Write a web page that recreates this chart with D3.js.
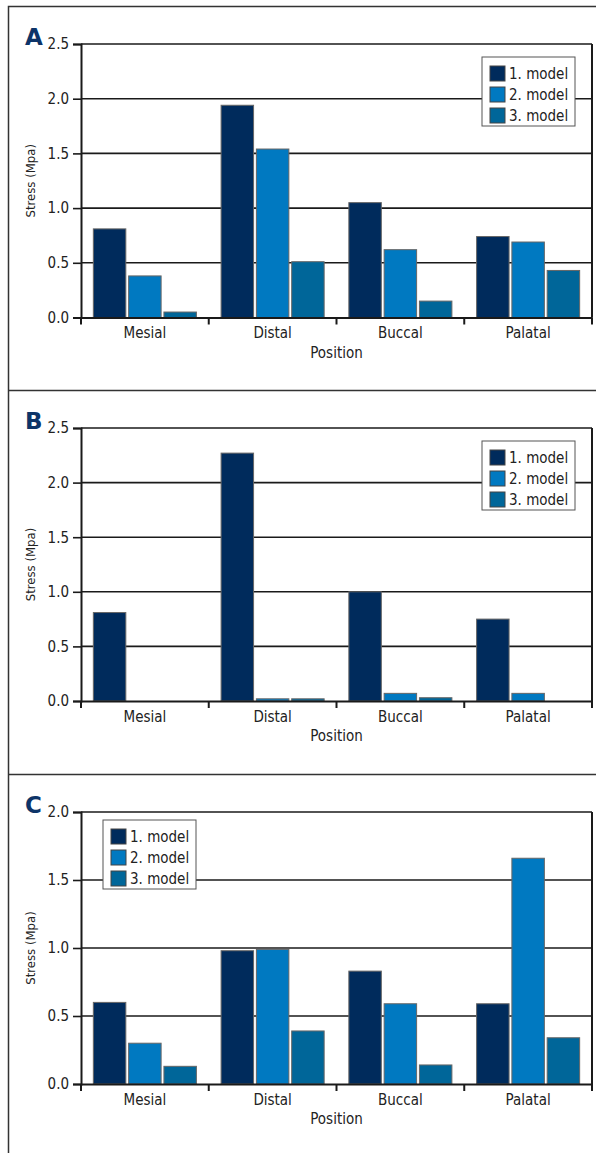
<!DOCTYPE html>
<html>
<head>
<meta charset="utf-8">
<script src="https://cdn.jsdelivr.net/npm/d3@7"></script>
<style>
  body { margin: 0; background: #fff; }
  svg text { font-family: "Liberation Sans Narrow", "DejaVu Sans Condensed", "Arial Narrow", sans-serif; fill: #222; }
</style>
</head>
<body>
<svg id="chart" width="596" height="1153"></svg>
<script>
// data to be manipulated
const positions = ["Mesial", "Distal", "Buccal", "Palatal"]
const models = ["1. model", "2. model", "3. model"]
const colors = ["#002b5c", "#0079c1", "#006699"]

// panel A
const stressA = [
  [0.81, 0.38, 0.05],
  [1.94, 1.54, 0.51],
  [1.05, 0.62, 0.15],
  [0.74, 0.69, 0.43]
]
// panel B
const stressB = [
  [0.81, 0, 0],
  [2.27, 0.02, 0.02],
  [1.00, 0.07, 0.03],
  [0.75, 0.07, 0]
]
// panel C
const stressC = [
  [0.60, 0.30, 0.13],
  [0.98, 0.99, 0.39],
  [0.83, 0.59, 0.14],
  [0.59, 1.66, 0.34]
]
const ticksAB = [0, 0.5, 1.0, 1.5, 2.0, 2.5]
const ticksC = [0, 0.5, 1.0, 1.5, 2.0]

const svg = d3.select("#chart")

// outer frame (open to the right and bottom)
svg.append("path")
   .attr("d", "M596,6.5 H8.5 V1153")
   .attr("fill", "none").attr("stroke", "#333").attr("stroke-width", 1.5)
svg.append("line").attr("x1", 8).attr("x2", 596).attr("y1", 390.5).attr("y2", 390.5)
   .attr("stroke", "#333").attr("stroke-width", 1.5)
svg.append("line").attr("x1", 8).attr("x2", 596).attr("y1", 774.5).attr("y2", 774.5)
   .attr("stroke", "#333").attr("stroke-width", 1.5)

function drawPanel(letter, data, ticks, top, bottom, legendPos) {
  const left = 81, right = 592
  const g = svg.append("g")

  const x = d3.scaleBand().domain(positions).range([left, right])
  const xInner = d3.scaleBand().domain(models).range([0, x.bandwidth()])
                   .paddingInner(0.08).paddingOuter(0.35)
  const y = d3.scaleLinear().domain([0, d3.max(ticks)]).range([bottom, top])

  // gridlines
  g.append("g").selectAll("line")
   .data(ticks.slice(1))
   .enter().append("line")
   .attr("x1", left).attr("x2", right)
   .attr("y1", d => y(d)).attr("y2", d => y(d))
   .attr("stroke", "#1a1a1a").attr("stroke-width", 1.6)

  // right border
  g.append("line").attr("x1", right).attr("x2", right)
   .attr("y1", y(d3.max(ticks))).attr("y2", bottom)
   .attr("stroke", "#1a1a1a").attr("stroke-width", 2)

  // bars
  g.append("g").selectAll("g")
   .data(data)
   .enter().append("g")
   .attr("transform", (d, i) => "translate(" + x(positions[i]) + ",0)")
   .selectAll("rect")
   .data(d => d)
   .enter().append("rect")
   .attr("x", (d, j) => xInner(models[j]))
   .attr("width", xInner.bandwidth())
   .attr("y", d => y(d))
   .attr("height", d => bottom - y(d))
   .attr("fill", (d, j) => colors[j])
   .attr("stroke", "#666").attr("stroke-width", d => d > 0 ? 1 : 0)

  // y axis
  const yAxis = g.append("g")
   .attr("transform", "translate(" + left + ",0)")
   .call(d3.axisLeft(y).tickValues(ticks).tickFormat(d3.format(".1f")).tickSize(8).tickPadding(4))
  yAxis.select(".domain").attr("stroke", "#1a1a1a").attr("stroke-width", 2)
  yAxis.selectAll(".tick line").attr("stroke", "#1a1a1a").attr("stroke-width", 1.6)
  yAxis.selectAll("text").attr("font-size", 15).attr("fill", "#222")
       .style("font-family", "'Liberation Sans Narrow', 'DejaVu Sans Condensed', sans-serif")

  // x axis
  const xAxis = g.append("g")
   .attr("transform", "translate(0," + bottom + ")")
   .call(d3.axisBottom(x).tickSize(0).tickPadding(10))
  xAxis.select(".domain").attr("stroke", "#1a1a1a").attr("stroke-width", 2.2)
  xAxis.selectAll("text").attr("font-size", 15).attr("fill", "#222")
       .style("font-family", "'Liberation Sans Narrow', 'DejaVu Sans Condensed', sans-serif")
  // boundary ticks between categories
  g.append("g").selectAll("line")
   .data(positions.map(p => x(p)).concat([right]))
   .enter().append("line")
   .attr("x1", d => d).attr("x2", d => d)
   .attr("y1", bottom).attr("y2", bottom + 7)
   .attr("stroke", "#1a1a1a").attr("stroke-width", 2)

  // axis titles
  g.append("text")
   .attr("x", (left + right) / 2).attr("y", bottom + 40)
   .attr("text-anchor", "middle").attr("font-size", 15)
   .text("Position")
  g.append("text")
   .attr("transform", "translate(35," + (top + bottom) / 2 + ") rotate(-90)")
   .attr("text-anchor", "middle").attr("font-size", 13)
   .text("Stress (Mpa)")

  // panel letter
  g.append("text")
   .attr("x", 25).attr("y", top + 1)
   .attr("font-size", 23).attr("font-weight", "bold")
   .style("font-family", "'DejaVu Sans', sans-serif")
   .style("fill", "#0d3468")
   .text(letter)

  // legend
  const lg = g.append("g").attr("transform", "translate(" + legendPos[0] + "," + legendPos[1] + ")")
  lg.append("rect").attr("width", 93).attr("height", 69)
    .attr("fill", "#fff").attr("stroke", "#555").attr("stroke-width", 1)
  const item = lg.selectAll(".item").data(models).enter().append("g")
    .attr("transform", (d, i) => "translate(8," + (9 + i * 21) + ")")
  item.append("rect").attr("width", 15).attr("height", 15)
      .attr("fill", (d, i) => colors[i]).attr("stroke", "#444").attr("stroke-width", 1)
  item.append("text").attr("x", 19).attr("y", 13).attr("font-size", 15).text(d => d)
}

drawPanel("A", stressA, ticksAB, 44, 317.5, [482, 57])
drawPanel("B", stressB, ticksAB, 428, 701, [482, 441])
drawPanel("C", stressC, ticksC, 812, 1084, [103, 820])
</script>
</body>
</html>
